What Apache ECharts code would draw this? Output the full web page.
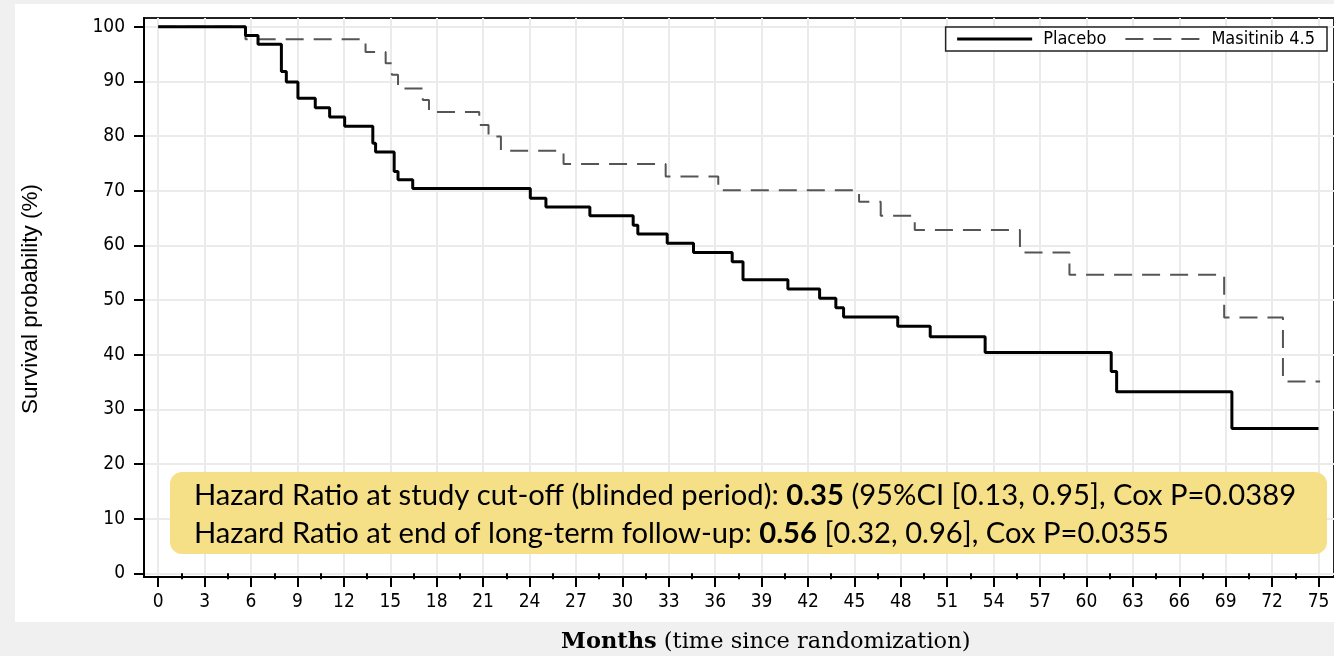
<!DOCTYPE html>
<html>
<head>
<meta charset="utf-8">
<script src="https://cdn.jsdelivr.net/npm/echarts@6/dist/echarts.min.js"></script>
<style>
  html, body { margin: 0; padding: 0; background: #f0f0f0; }
  #panel { position: absolute; left: 15px; top: 4px; width: 1319px; height: 618px; background: #ffffff; }
  #chart { position: absolute; left: 0; top: 0; width: 1334px; height: 656px; }
</style>
</head>
<body>
<div id="panel"></div>
<div id="chart"></div>
<script>
// ---- data (months, survival % after each event) ----
const placebo = [
  [0, 100], [5.64, 98.4], [6.45, 96.8], [7.96, 91.8], [8.28, 89.9], [9.03, 86.9],
  [10.15, 85.2], [11.08, 83.5], [12.05, 81.8], [13.87, 78.7], [14.05, 77.1],
  [15.25, 73.5], [15.5, 72.0], [16.45, 70.4], [24.05, 68.6], [25.06, 67.0],
  [27.9, 65.4], [30.7, 63.7], [31.0, 62.1], [32.9, 60.4], [34.6, 58.7],
  [37.1, 57.0], [37.8, 53.7], [40.7, 52.0], [42.75, 50.3], [43.8, 48.6],
  [44.3, 46.9], [47.8, 45.2], [49.9, 43.3], [53.45, 40.4], [61.6, 36.9],
  [61.95, 33.2], [69.4, 26.5], [75, 26.5]
];
const masitinib = [
  [0, 100], [5.64, 97.7], [13.4, 95.4], [14.7, 93.3], [15.1, 91.2], [15.5, 88.7],
  [17.1, 86.6], [17.5, 84.4], [20.75, 82.0], [21.35, 79.9], [22.15, 77.3],
  [26.2, 74.9], [32.8, 72.6], [36.2, 70.1], [45.3, 68.0], [46.7, 65.4],
  [48.9, 62.8], [55.7, 58.7], [58.9, 54.6], [68.9, 46.8], [72.7, 35.1], [75.1, 35.1]
];
const seriesNames = ['Placebo', 'Masitinib 4.5'];
const xTicks = [0, 3, 6, 9, 12, 15, 18, 21, 24, 27, 30, 33, 36, 39, 42, 45, 48, 51, 54, 57, 60, 63, 66, 69, 72, 75];
const xMinorTicks = [1.5, 4.5, 7.5, 10.5, 13.5, 16.5, 19.5, 22.5, 25.5, 28.5, 31.5, 34.5, 37.5, 40.5, 43.5, 46.5, 49.5, 52.5, 55.5, 58.5, 61.5, 64.5, 67.5, 70.5, 73.5];
const yTicks = [0, 10, 20, 30, 40, 50, 60, 70, 80, 90, 100];
const yTitle = 'Survival probability (%)';
const xTitleBold = 'Months';
const xTitleRest = ' (time since randomization)';
const hrLine1 = ['Hazard Ratio at study cut-off (blinded period): ', '0.35', ' (95%CI [0.13, 0.95], Cox P=0.0389'];
const hrLine2 = ['Hazard Ratio at end of long-term follow-up: ', '0.56', ' [0.32, 0.96], Cox P=0.0355'];

const narrow = "'Liberation Sans Narrow', 'DejaVu Sans Condensed', sans-serif";
const chart = echarts.init(document.getElementById('chart'), null, { renderer: 'canvas' });

const xMin = -0.92, xMax = 76, yMin = -0.68, yMax = 101.6;
const hrFont = 29.2;

chart.setOption({
  animation: false,
  grid: {
    left: 144, top: 18, right: -2, bottom: 79,
    show: true, borderColor: '#222', borderWidth: 2, backgroundColor: 'transparent'
  },
  legend: {
    data: [
      { name: seriesNames[0], lineStyle: { width: 3, color: '#000' } },
      { name: seriesNames[1], lineStyle: { width: 2, color: '#555', type: [18, 10] } }
    ],
    right: 7, top: 27,
    orient: 'horizontal',
    itemWidth: 75, itemHeight: 20, itemGap: 18,
    padding: [3, 12, 3, 10],
    borderColor: '#222', borderWidth: 1.5, backgroundColor: '#fff',
    itemStyle: { color: 'transparent', borderWidth: 0, opacity: 0 },
    textStyle: { fontFamily: narrow, fontSize: 18, color: '#000', padding: [0, 0, 0, 6] }
  },
  title: {
    left: 556, top: 626,
    text: '{b|' + xTitleBold + '}{r|' + xTitleRest + '}',
    textStyle: {
      rich: {
        b: { fontFamily: 'DejaVu Serif', fontWeight: 'bold', fontSize: 22.5, color: '#000' },
        r: { fontFamily: 'DejaVu Serif', fontWeight: 'normal', fontSize: 22.5, color: '#000' }
      }
    }
  },
  xAxis: [{
    type: 'value', min: xMin, max: xMax,
    axisLine: { show: true, onZero: false, lineStyle: { color: '#000', width: 2 } },
    axisTick: { show: true, customValues: xTicks, length: 10, lineStyle: { color: '#000', width: 2 } },
    axisLabel: { customValues: xTicks, margin: 16, fontFamily: narrow, fontSize: 19, color: '#000' },
    splitLine: { show: true, lineStyle: { color: '#ebebeb', width: 2 } }
  }, {
    type: 'value', min: xMin, max: xMax, gridIndex: 0, position: 'bottom', offset: 0,
    axisLine: { show: false },
    axisTick: { show: true, customValues: xMinorTicks, length: 6, lineStyle: { color: '#000', width: 2 } },
    axisLabel: { show: false },
    splitLine: { show: false }
  }],
  yAxis: {
    type: 'value', min: yMin, max: yMax,
    axisLine: { show: true, onZero: false, lineStyle: { color: '#000', width: 2 } },
    axisTick: { show: true, customValues: yTicks, length: 10, lineStyle: { color: '#000', width: 2 } },
    axisLabel: { customValues: yTicks, margin: 19, fontFamily: narrow, fontSize: 19, color: '#000' },
    splitLine: { show: true, lineStyle: { color: '#ebebeb', width: 2 } }
  },
  series: [{
    name: seriesNames[0], type: 'line', step: 'end', data: placebo,
    xAxisIndex: 0, symbol: 'none', showSymbol: false, z: 3,
    lineStyle: { color: '#000', width: 3 }, itemStyle: { color: '#000' }
  }, {
    name: seriesNames[1], type: 'line', step: 'end', data: masitinib,
    xAxisIndex: 0, symbol: 'none', showSymbol: false, z: 2,
    lineStyle: { color: '#555', width: 2, type: [18, 10] }, itemStyle: { color: '#555' }
  }],
  graphic: [{
    type: 'text', z: 10,
    x: 31, y: 299, rotation: Math.PI / 2,
    style: { text: yTitle, fontFamily: 'Liberation Sans', fontSize: 22.5, fill: '#000', align: 'center', verticalAlign: 'middle' }
  }, {
    type: 'rect', z: 50,
    shape: { x: 170, y: 472, width: 1157, height: 82, r: 12 },
    style: { fill: '#f5df87' }
  }, {
    type: 'text', z: 51, x: 194, y: 496,
    style: {
      text: '{n|' + hrLine1[0] + '}{b|' + hrLine1[1] + '}{n|' + hrLine1[2] + '}',
      verticalAlign: 'middle',
      rich: {
        n: { fontFamily: 'Lato', fontSize: hrFont, fill: '#000' },
        b: { fontFamily: 'Lato', fontSize: hrFont, fontWeight: 'bold', fill: '#000' }
      }
    }
  }, {
    type: 'text', z: 51, x: 194, y: 534,
    style: {
      text: '{n|' + hrLine2[0] + '}{b|' + hrLine2[1] + '}{n|' + hrLine2[2] + '}',
      verticalAlign: 'middle',
      rich: {
        n: { fontFamily: 'Lato', fontSize: hrFont, fill: '#000' },
        b: { fontFamily: 'Lato', fontSize: hrFont, fontWeight: 'bold', fill: '#000' }
      }
    }
  }]
});
</script>
</body>
</html>
